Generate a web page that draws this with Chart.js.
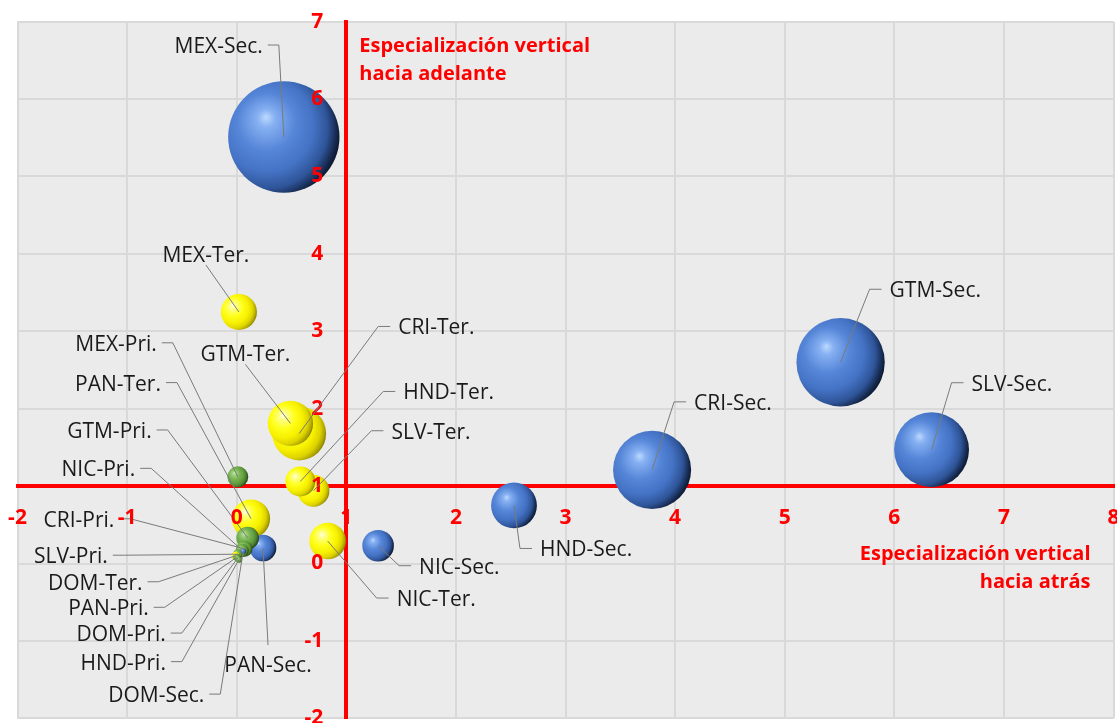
<!DOCTYPE html>
<html lang="es">
<head>
<meta charset="utf-8">
<title>Especialización vertical por país y sector</title>
<script src="https://cdn.jsdelivr.net/npm/chart.js@4.4.1/dist/chart.umd.min.js"></script>
<style>
  html, body { margin: 0; padding: 0; background: #ffffff; }
  #marco { width: 1117px; height: 723px; position: relative; }
  canvas { display: block; }
</style>
</head>
<body>
<div id="marco"><canvas id="grafico" width="1117" height="723"></canvas></div>
<script>
// ---- Datos: país-sector ----
const etiquetas = [
  'MEX-Sec.', 'GTM-Sec.', 'SLV-Sec.', 'CRI-Sec.', 'HND-Sec.', 'NIC-Sec.', 'PAN-Sec.', 'DOM-Sec.',
  'MEX-Ter.', 'GTM-Ter.', 'CRI-Ter.', 'HND-Ter.', 'SLV-Ter.', 'NIC-Ter.', 'PAN-Ter.', 'DOM-Ter.',
  'MEX-Pri.', 'GTM-Pri.', 'NIC-Pri.', 'CRI-Pri.', 'SLV-Pri.', 'PAN-Pri.', 'DOM-Pri.', 'HND-Pri.'
];
// Sector de cada observación
const sectores = [
  'Sec', 'Sec', 'Sec', 'Sec', 'Sec', 'Sec', 'Sec', 'Sec',
  'Ter', 'Ter', 'Ter', 'Ter', 'Ter', 'Ter', 'Ter', 'Ter',
  'Pri', 'Pri', 'Pri', 'Pri', 'Pri', 'Pri', 'Pri', 'Pri'
];
// Especialización vertical hacia atrás (eje horizontal)
const haciaAtras = [
  0.43, 5.51, 6.34, 3.79, 2.53, 1.29, 0.24, 0.06,
  0.02, 0.49, 0.57, 0.58, 0.70, 0.83, 0.13, -0.01,
  0.01, 0.10, 0.05, 0.07, 0.01, 0.00, 0.01, 0.02
];
// Especialización vertical hacia adelante (eje vertical)
const haciaAdelante = [
  5.51, 2.60, 1.47, 1.21, 0.75, 0.23, 0.20, 0.16,
  3.25, 1.81, 1.68, 1.06, 0.94, 0.29, 0.58, 0.10,
  1.12, 0.33, 0.17, 0.19, 0.12, 0.08, 0.07, 0.05
];
// Peso relativo de cada observación (área de la burbuja)
const pesos = [
  124, 78, 56, 61, 21, 10, 7.1, 0.3,
  13, 20.6, 29, 9, 10.2, 13.4, 14.7, 0.64,
  4.4, 5.1, 1.7, 2.6, 1.0, 0.5, 0.36, 0.36
];
// Rango y paso de los ejes (etiquetas de -2 a 8 y de -2 a 7)
const rangoX = { min: -2, max: 8, paso: 1 };
const rangoY = { min: -2, max: 7, paso: 1 };
// Cruce de los ejes rojos
const cruceX = 1;
const cruceY = 1;

// ---- Presentación ----
const ESCALA_RADIO = 5;             // px por raíz del peso
const FUENTE = '"Open Sans", "Noto Sans", sans-serif';
const ROJO = '#ff0000';

// Paletas de esfera por sector: brillo, claro, base, medio, oscuro, borde
const paletas = {
  Sec: ['#bcd9ff', '#86b0f2', '#5686d8', '#4472c4', '#2f5599', '#15284d', '#070f1e'],
  Ter: ['#ffffec', '#ffff8c', '#ffff1a', '#f7f000', '#ddd300', '#aaa100', '#6e6800'],
  Pri: ['#d4f0c0', '#a2d483', '#79b453', '#64a03f', '#4c8030', '#2c5219', '#15290a']
};

// Posición de cada rótulo respecto al centro de su burbuja (px)
const colocacion = {
  'MEX-Sec.': { lado: 'izq', dx: -21, dy: -90 },
  'GTM-Sec.': { lado: 'der', dx: 49, dy: -71 },
  'SLV-Sec.': { lado: 'der', dx: 40, dy: -65 },
  'CRI-Sec.': { lado: 'der', dx: 42, dy: -66 },
  'HND-Sec.': { lado: 'der', dx: 26, dy: 45 },
  'NIC-Sec.': { lado: 'der', dx: 41, dy: 22 },
  'PAN-Sec.': { lado: 'abajo', dx: 5, dy: 118 },
  'DOM-Sec.': { lado: 'izq', dx: -39, dy: 145 },
  'MEX-Ter.': { lado: 'arriba', dx: -33, dy: -56 },
  'GTM-Ter.': { lado: 'arriba', dx: -45, dy: -68 },
  'CRI-Ter.': { lado: 'der', dx: 99, dy: -105 },
  'HND-Ter.': { lado: 'der', dx: 103, dy: -88 },
  'SLV-Ter.': { lado: 'der', dx: 78, dy: -58 },
  'NIC-Ter.': { lado: 'der', dx: 69, dy: 59 },
  'PAN-Ter.': { lado: 'izq', dx: -90, dy: -134 },
  'DOM-Ter.': { lado: 'izq', dx: -93, dy: 28 },
  'MEX-Pri.': { lado: 'izq', dx: -81, dy: -132 },
  'GTM-Pri.': { lado: 'izq', dx: -96, dy: -106 },
  'NIC-Pri.': { lado: 'izq', dx: -107, dy: -80 },
  'CRI-Pri.': { lado: 'izq', dx: -130, dy: -28 },
  'SLV-Pri.': { lado: 'izq', dx: -130, dy: 3 },
  'PAN-Pri.': { lado: 'izq', dx: -88, dy: 52 },
  'DOM-Pri.': { lado: 'izq', dx: -72, dy: 77 },
  'HND-Pri.': { lado: 'izq', dx: -73, dy: 104 }
};

// Puntos del gráfico; los más grandes se dibujan primero (quedan detrás)
const puntos = etiquetas.map((nombre, i) => ({
  x: haciaAtras[i],
  y: haciaAdelante[i],
  r: ESCALA_RADIO * Math.sqrt(pesos[i]),
  etiqueta: nombre,
  sector: sectores[i]
})).sort((a, b) => b.r - a.r);

// Relleno esférico con brillo arriba a la izquierda
function rellenoEsfera(context) {
  const p = context.raw;
  const chart = context.chart;
  const pal = paletas[p.sector];
  if (!chart.chartArea || !chart.scales.x || !p) return pal[3];
  const cx = chart.scales.x.getPixelForValue(p.x);
  const cy = chart.scales.y.getPixelForValue(p.y);
  const r = p.r;
  const g = chart.ctx.createRadialGradient(
    cx - 0.32 * r, cy - 0.36 * r, 0,
    cx - 0.30 * r, cy - 0.12 * r, 1.36 * r
  );
  g.addColorStop(0.00, pal[0]);
  g.addColorStop(0.12, pal[1]);
  g.addColorStop(0.38, pal[2]);
  g.addColorStop(0.62, pal[3]);
  g.addColorStop(0.80, pal[4]);
  g.addColorStop(0.92, pal[5]);
  g.addColorStop(1.00, pal[6]);
  return g;
}

// Fondo gris del área de trazado
const fondoArea = {
  id: 'fondoArea',
  beforeDraw(chart) {
    const { ctx, chartArea: a } = chart;
    ctx.save();
    ctx.fillStyle = '#ebebeb';
    ctx.fillRect(a.left, a.top, a.right - a.left, a.bottom - a.top);
    ctx.restore();
  }
};

// Valores del eje vertical, a la izquierda de la línea roja
const valoresEjeY = {
  id: 'valoresEjeY',
  afterDatasetsDraw(chart) {
    const { ctx, scales } = chart;
    const xLinea = scales.x.getPixelForValue(cruceX);
    ctx.save();
    ctx.font = 'bold 21px ' + FUENTE;
    ctx.fillStyle = ROJO;
    ctx.textAlign = 'right';
    ctx.textBaseline = 'middle';
    scales.y.ticks.forEach((t) => {
      ctx.fillText(t.label, xLinea - 23, scales.y.getPixelForValue(t.value));
    });
    ctx.restore();
  }
};

// Rótulos con líneas guía
const rotulos = {
  id: 'rotulos',
  afterDatasetsDraw(chart) {
    const ctx = chart.ctx;
    const meta = chart.getDatasetMeta(0);
    ctx.save();
    ctx.font = '21px ' + FUENTE;
    ctx.textBaseline = 'middle';
    meta.data.forEach((el, i) => {
      const p = puntos[i];
      const c = colocacion[p.etiqueta];
      const cx = el.x, cy = el.y;
      const tx = cx + c.dx, ty = cy + c.dy;
      ctx.strokeStyle = '#7a7a7a';
      ctx.lineWidth = 1;
      ctx.beginPath();
      ctx.moveTo(cx, cy);
      if (c.lado === 'der') {
        ctx.lineTo(tx - 20, ty - 2);
        ctx.lineTo(tx - 8, ty - 2);
        ctx.textAlign = 'left';
      } else if (c.lado === 'izq') {
        ctx.lineTo(tx + 16, ty - 2);
        ctx.lineTo(tx + 5, ty - 2);
        ctx.textAlign = 'right';
      } else if (c.lado === 'arriba') {
        ctx.lineTo(tx, ty + 9);
        ctx.textAlign = 'center';
      } else {
        ctx.lineTo(tx, ty - 21);
        ctx.textAlign = 'center';
      }
      ctx.stroke();
      ctx.fillStyle = '#1a1a1a';
      ctx.fillText(p.etiqueta, tx, ty);
    });
    ctx.restore();
  }
};

// Títulos de los ejes junto a las líneas rojas
const titulosEjes = {
  id: 'titulosEjes',
  afterDraw(chart) {
    const { ctx, chartArea: a, scales } = chart;
    const xCruce = scales.x.getPixelForValue(cruceX);
    const yCruce = scales.y.getPixelForValue(cruceY);
    ctx.save();
    ctx.font = 'bold 20px ' + FUENTE;
    ctx.fillStyle = ROJO;
    ctx.textBaseline = 'middle';
    ctx.textAlign = 'left';
    ctx.fillText('Especialización vertical', xCruce + 13, a.top + 25);
    ctx.fillText('hacia adelante', xCruce + 13, a.top + 53);
    ctx.textAlign = 'right';
    ctx.fillText('Especialización vertical', a.right - 23, yCruce + 68);
    ctx.fillText('hacia atrás', a.right - 23, yCruce + 96);
    ctx.restore();
  }
};

function sinRelleno(scale) {
  scale.paddingLeft = 0;
  scale.paddingRight = 0;
  scale.paddingTop = 0;
  scale.paddingBottom = 0;
}

function dibujar() {
  Chart.defaults.font.family = FUENTE;
  new Chart(document.getElementById('grafico'), {
    type: 'bubble',
    data: {
      datasets: [{
        label: 'Especialización vertical',
        data: puntos,
        backgroundColor: rellenoEsfera,
        borderWidth: 0,
        hoverBorderWidth: 0,
        clip: false
      }]
    },
    options: {
      responsive: false,
      animation: false,
      events: [],
      layout: { autoPadding: false, padding: { left: 17.5, top: 21.7, right: 3.5, bottom: 4.7 } },
      plugins: { legend: { display: false }, tooltip: { enabled: false } },
      scales: {
        x: {
          type: 'linear',
          min: rangoX.min, max: rangoX.max,
          position: { y: cruceY },
          afterFit: sinRelleno,
          grid: { color: '#d9d9d9', lineWidth: 2, drawTicks: false },
          border: { color: ROJO, width: 4 },
          ticks: {
            stepSize: rangoX.paso, autoSkip: false, maxRotation: 0,
            padding: 19, color: ROJO, z: 1,
            font: { size: 21, weight: 'bold', family: FUENTE }
          }
        },
        y: {
          type: 'linear',
          min: rangoY.min, max: rangoY.max,
          position: { x: cruceX },
          afterFit: sinRelleno,
          grid: { color: '#d9d9d9', lineWidth: 2, drawTicks: false },
          border: { color: ROJO, width: 4 },
          ticks: {
            stepSize: rangoY.paso, autoSkip: false, display: false,
            font: { size: 21, weight: 'bold', family: FUENTE }
          }
        }
      }
    },
    plugins: [fondoArea, valoresEjeY, rotulos, titulosEjes]
  });
}

if (document.fonts && document.fonts.load) {
  Promise.all([
    document.fonts.load('21px "Open Sans"'),
    document.fonts.load('bold 21px "Open Sans"')
  ]).then(dibujar, dibujar);
} else {
  dibujar();
}
</script>
</body>
</html>
